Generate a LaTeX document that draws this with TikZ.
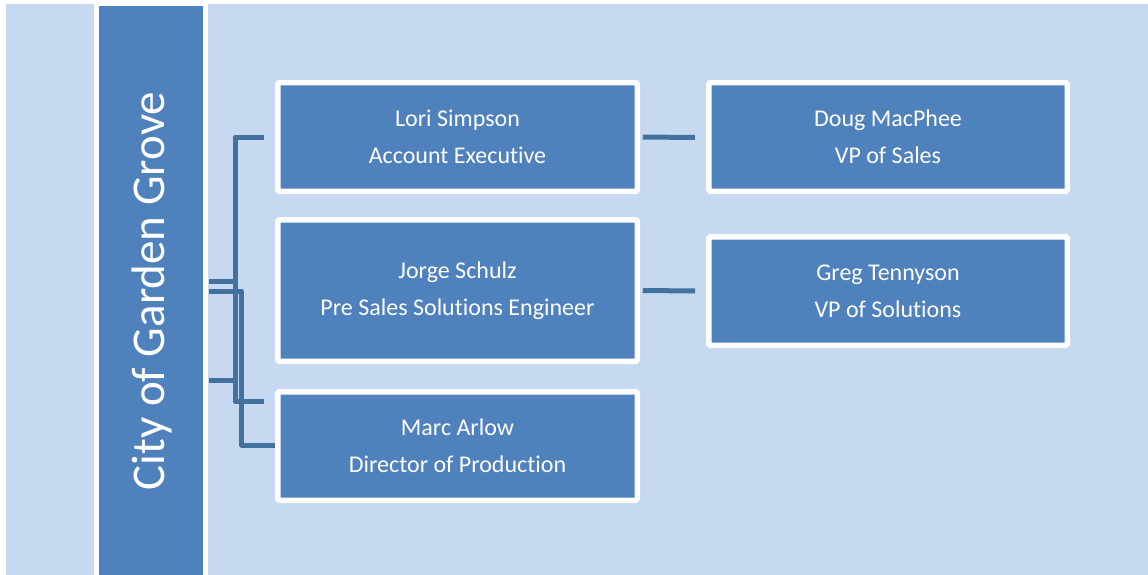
\documentclass[tikz,border=0pt]{standalone}
\usepackage{fontspec}
\setmainfont{Carlito}[Ligatures=NoCommon]
\definecolor{bgl}{HTML}{C6D9F0}
\definecolor{boxb}{HTML}{4F81BD}
\definecolor{conn}{HTML}{41719C}
\begin{document}
\begin{tikzpicture}[x=1pt,y=-1pt,
  card/.style={fill=boxb,draw=white,line width=5.5pt,rounded corners=1.5pt,
    text=white,align=center,inner sep=0pt,
    font=\fontsize{24}{37}\selectfont},
  link/.style={draw=conn,line width=5pt,line join=round}]
\useasboundingbox (0,0) rectangle (1148,575);
\fill[white] (0,0) rectangle (1148,575);
\fill[bgl] (6,4) rectangle (1148,575);
\fill[white] (94,0) rectangle (208,575);
\node[fill=boxb,minimum width=104pt,minimum height=569pt,inner sep=0pt,anchor=north west] (root) at (99,6) {};
\node[rotate=90,text=white,font=\fontsize{47}{47}\selectfont] (rootlabel) at (152,291) {City of Garden Grove};
% coordinates
\coordinate (a1) at (264,137.5);
\coordinate (a2) at (264,401.5);
\coordinate (r1) at (209,281.5);
\coordinate (r2) at (209,291);
\coordinate (r3) at (209,380.5);
\coordinate (m1) at (275,445);
\coordinate (d1) at (695,137.5);
\coordinate (g1) at (695,291);
% connectors
\draw[link] (a1) -- (235,137.5) -- (235,401.5) -- (a2);
\draw[link] (r1) -- (235,281.5);
\draw[link] (r3) -- (235,380.5);
\draw[link] (r2) -- (241.7,291) -- (241.7,445) -- (m1);
% boxes
\node[card,minimum width=359.5pt,minimum height=108.5pt] (lori) at (457.5,137) {Lori Simpson\\Account Executive};
\node[card,minimum width=359.5pt,minimum height=141.5pt] (jorge) at (457.5,290.5) {Jorge Schulz\\Pre Sales Solutions Engineer};
\node[card,minimum width=359.5pt,minimum height=108.5pt] (marc) at (457.5,446) {Marc Arlow\\Director of Production};
\node[card,minimum width=358.5pt,minimum height=108.5pt] (doug) at (888,137) {Doug MacPhee\\VP of Sales};
\node[card,minimum width=358.5pt,minimum height=108.5pt] (greg) at (888,291) {Greg Tennyson\\VP of Solutions};
\draw[link] (lori.east) ++(2.75pt,0) -- (d1);
\draw[link] (jorge.east) ++(2.75pt,0) -- (g1);
\end{tikzpicture}
\end{document}
